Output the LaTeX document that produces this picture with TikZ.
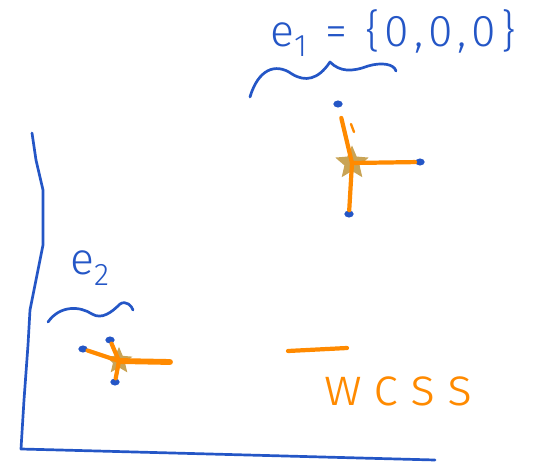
\documentclass[tikz,border=0pt]{standalone}
\usepackage{fontspec}
\usetikzlibrary{shapes.geometric}
\newfontfamily\handfont[LetterSpace=12]{Fira Sans Light}
\definecolor{inkblue}{HTML}{2456C6}
\definecolor{inkorange}{HTML}{FF8A00}
\definecolor{inkstar}{HTML}{C9A456}
\tikzset{
  pen/.style={
    draw=inkblue,
    line width=2.3pt,
    line cap=round,
    line join=round
  },
  limb/.style={
    draw=inkorange,
    line width=3.6pt,
    line cap=round
  },
  tip/.style={
    ellipse,
    fill=inkblue,
    inner sep=0pt,
    minimum width=8pt,
    minimum height=6pt
  },
  origin/.style={
    star,
    star points=5,
    star point ratio=2.2,
    fill=inkstar,
    inner sep=0pt,
    minimum size=30pt
  },
  handtext/.style={
    inner sep=0pt,
    font=\handfont\fontsize{38}{44}\selectfont
  }
}

\begin{document}
\begin{tikzpicture}[x=0.03cm,y=-0.03cm]
\useasboundingbox (0,0) rectangle (549,466);

% frame of the world
\draw[pen] (32,133) -- (36,160) -- (43,190) -- (43,245) -- (37,275)
  -- (30,310) -- (28,345) -- (24,400) -- (21,449) -- (60,450) -- (435,460);

% first entity
\node[handtext, text=inkblue, anchor=base west] (e1) at (270,46)
  {e\textsubscript{1} = \{0,0,0\}};
\draw[pen] (250,97) .. controls (258,70) and (275,62) .. (292,74)
  .. controls (305,82) and (318,80) .. (330,62)
  .. controls (340,72) and (352,72) .. (368,66)
  .. controls (382,62) and (394,64) .. (396,71);
\node[origin] (g1) at (352,163) {};
\node[tip] (g1top) at (338,104) {};
\node[tip] (g1right) at (420,162) {};
\node[tip] (g1down) at (349,214) {};
\draw[limb, shorten >=9pt] (g1.center) -- (g1top);
\draw[limb] (g1.center) -- (g1right);
\draw[limb] (g1.center) -- (g1down);
\draw[limb, line width=2pt] (351,124) -- (354,132);

% second entity
\node[handtext, text=inkblue, anchor=base west] (e2) at (70,274)
  {e\textsubscript{2}};
\draw[pen] (48,322) .. controls (60,305) and (80,306) .. (92,314)
  .. controls (102,320) and (112,312) .. (120,304)
  .. controls (126,300) and (132,306) .. (133,310);
\node[origin, minimum size=24pt] (g2) at (119,361) {};
\node[tip] (g2left) at (83,349) {};
\node[tip] (g2top) at (110,340) {};
\node[tip] (g2down) at (115,382) {};
\coordinate (g2right) at (170,362);
\draw[limb] (g2.center) -- (g2left);
\draw[limb] (g2.center) -- (g2top);
\draw[limb] (g2.center) -- (g2down);
\draw[limb, line width=5pt] (g2.center) -- (g2right);

% world space marker
\coordinate (wa) at (288,351);
\coordinate (wb) at (347,348);
\draw[limb] (wa) -- (wb);
\node[handtext, text=inkorange, anchor=base west] (wcss) at (324,405)
  {\fontsize{46}{52}\selectfont\addfontfeature{LetterSpace=22}wcss};

\end{tikzpicture}
\end{document}
